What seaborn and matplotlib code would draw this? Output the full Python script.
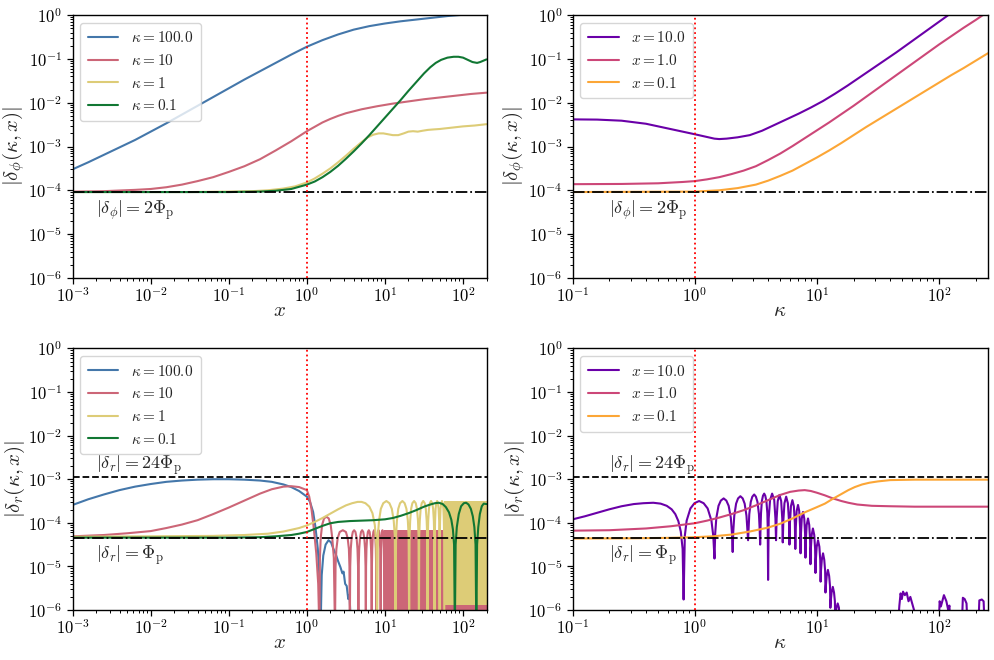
import numpy as np
import matplotlib
matplotlib.use("Agg")
import matplotlib.pyplot as plt
import matplotlib.ticker as mticker
import seaborn as sns

sns.set_style("ticks")
plt.rcParams.update({
    "font.family": ["serif"],
    "font.serif": ["cmr10", "DejaVu Serif"],
    "mathtext.fontset": "cm",
    "axes.unicode_minus": False,
    "axes.edgecolor": "black",
    "axes.linewidth": 1.0,
    "xtick.color": "black",
    "ytick.color": "black",
})

# ---------------- data (log10 values) ----------------
PHI_P = 4.6e-5
LEFT_LABELS = [r"$\kappa = 100.0$", r"$\kappa = 10$", r"$\kappa = 1$", r"$\kappa = 0.1$"]
RIGHT_LABELS = [r"$x = 10.0$", r"$x = 1.0$", r"$x = 0.1$"]
LEFT_COLORS = ["#4477AA", "#CC6677", "#DDCC77", "#117733"]
RIGHT_COLORS = ["#6a00a8", "#cc4778", "#fca636"]

# top-left: |delta_phi| vs x   (log10 x, log10 y)
tl_k100_lx = [-3, -2.8, -2.6, -2.4, -2.2, -2.0, -1.8, -1.6, -1.4, -1.2, -1.0, -0.8, -0.6, -0.4, -0.2,
              0, 0.2, 0.4, 0.6, 0.8, 1.0, 1.2, 1.4, 1.6, 1.8, 2.0, 2.3]
tl_k100_ly = [-3.52, -3.36, -3.19, -3.02, -2.85, -2.66, -2.47, -2.27, -2.07, -1.87, -1.67, -1.47, -1.28, -1.09, -0.90,
              -0.72, -0.57, -0.44, -0.33, -0.25, -0.19, -0.14, -0.10, -0.06, -0.02, 0.01, 0.04]
tl_k10_lx = [-3, -2.6, -2.2, -2.0, -1.8, -1.6, -1.4, -1.2, -1.0, -0.8, -0.6, -0.4, -0.2, 0, 0.1, 0.2,
             0.3, 0.4, 0.5, 0.7, 0.9, 1.1, 1.3, 1.5, 1.7, 1.9, 2.1, 2.3]
tl_k10_ly = [-4.03, -4.02, -3.99, -3.97, -3.93, -3.87, -3.79, -3.70, -3.58, -3.45, -3.29, -3.09, -2.88, -2.65, -2.55, -2.45,
             -2.37, -2.30, -2.24, -2.15, -2.08, -2.02, -1.97, -1.92, -1.88, -1.84, -1.80, -1.77]
tl_k1_lx = [-3, -1.5, -1.0, -0.7, -0.5, -0.3, -0.15, 0, 0.1, 0.2, 0.3, 0.4, 0.5, 0.6, 0.7, 0.78, 0.85, 0.92, 0.98,
            1.04, 1.1, 1.17, 1.24, 1.3, 1.36, 1.42, 1.48, 1.55, 1.62, 1.7, 1.8, 1.9, 2.0, 2.15, 2.3]
tl_k1_ly = [-4.04, -4.04, -4.03, -4.02, -4.0, -3.96, -3.91, -3.82, -3.73, -3.62, -3.50, -3.36, -3.21, -3.05, -2.90,
            -2.79, -2.73, -2.70, -2.70, -2.72, -2.74, -2.74, -2.70, -2.66, -2.65, -2.66, -2.64, -2.62, -2.61, -2.60,
            -2.58, -2.56, -2.54, -2.52, -2.49]
tl_k01_lx = [-3, -1, -0.6, -0.4, -0.2, 0, 0.1, 0.2, 0.3, 0.4, 0.5, 0.6, 0.7, 0.8, 0.9, 1.0, 1.1, 1.2, 1.3, 1.4,
             1.5, 1.58, 1.65, 1.72, 1.8, 1.88, 1.94, 2.0, 2.06, 2.12, 2.18, 2.22, 2.26, 2.3]
tl_k01_ly = [-4.04, -4.04, -4.03, -4.01, -3.97, -3.87, -3.80, -3.70, -3.58, -3.44, -3.28, -3.11, -2.93, -2.74, -2.54,
             -2.34, -2.14, -1.94, -1.73, -1.53, -1.33, -1.19, -1.09, -1.02, -0.97, -0.95, -0.95, -0.97, -1.02, -1.07,
             -1.09, -1.07, -1.04, -1.01]

# top-right: |delta_phi| vs kappa   (log10 kappa, log10 y)
tr_x10_lk = [-1, -0.8, -0.6, -0.4, -0.2, -0.1, 0, 0.08, 0.16, 0.2, 0.26, 0.35, 0.45, 0.55, 0.65, 0.75, 0.85, 0.95,
             1.05, 1.15, 1.25, 1.35, 1.45, 1.55, 1.65, 1.75, 1.85, 1.95, 2.05, 2.15, 2.4]
tr_x10_ly = [-2.38, -2.385, -2.41, -2.48, -2.60, -2.66, -2.72, -2.77, -2.82, -2.83, -2.82, -2.79, -2.74, -2.64, -2.51,
             -2.38, -2.25, -2.11, -1.96, -1.79, -1.61, -1.42, -1.23, -1.04, -0.85, -0.65, -0.45, -0.25, -0.05, 0.15, 0.6]
tr_x1_lk = [-1, -0.6, -0.3, -0.1, 0, 0.1, 0.2, 0.3, 0.4, 0.5, 0.6, 0.7, 0.8, 0.9, 1.0, 1.1, 1.2, 1.3, 1.4, 1.5,
            1.6, 1.7, 1.8, 1.9, 2.0, 2.1, 2.2, 2.3, 2.4]
tr_x1_ly = [-3.86, -3.855, -3.84, -3.81, -3.79, -3.75, -3.70, -3.63, -3.55, -3.45, -3.31, -3.16, -2.99, -2.81, -2.63,
            -2.45, -2.26, -2.07, -1.87, -1.67, -1.47, -1.27, -1.07, -0.87, -0.67, -0.48, -0.29, -0.11, 0.08]
tr_x01_lk = [-1, 0, 0.2, 0.35, 0.5, 0.6, 0.7, 0.8, 0.9, 1.0, 1.1, 1.2, 1.3, 1.4, 1.5, 1.6, 1.7, 1.8, 1.9, 2.0,
             2.1, 2.2, 2.3, 2.4]
tr_x01_ly = [-4.04, -4.03, -4.0, -3.95, -3.87, -3.78, -3.67, -3.55, -3.40, -3.25, -3.09, -2.92, -2.74, -2.56, -2.39,
             -2.22, -2.05, -1.88, -1.71, -1.54, -1.37, -1.21, -1.04, -0.87]

# bottom-left: |delta_r| vs x
bl_k100_lx = [-3, -2.8, -2.6, -2.4, -2.2, -2.0, -1.8, -1.6, -1.4, -1.2, -1.0, -0.8, -0.6, -0.45, -0.3, -0.2, -0.1,
              0, 0.04, 0.08, 0.11, 0.14, 0.16, 0.175, 0.19, 0.21, 0.24, 0.277, 0.31, 0.34, 0.37, 0.40, 0.43,
              0.455, 0.47, 0.49, 0.51, 0.53, 0.545, 0.555, 0.57, 0.6]
bl_k100_ly = [-3.59, -3.46, -3.35, -3.25, -3.17, -3.11, -3.06, -3.03, -3.01, -3.00, -3.00, -3.01, -3.03, -3.06, -3.12,
              -3.18, -3.27, -3.40, -3.52, -3.75, -4.1, -4.6, -5.2, -6.5, -5.2, -4.75, -4.5, -4.40, -4.45, -4.6, -4.72,
              -4.88, -5.02, -5.16, -5.12, -5.4, -5.45, -5.75, -5.65, -6.0, -6.1, -6.5]
bl_k10_lx = [-3, -2.6, -2.3, -2.0, -1.8, -1.6, -1.4, -1.2, -1.0, -0.8, -0.6, -0.45, -0.3, -0.2, -0.1,
             0, 0.03, 0.06, 0.09, 0.12, 0.145, 0.16,
             0.167, 0.177, 0.195, 0.22, 0.25, 0.28, 0.305, 0.325, 0.345, 0.36,
             0.367, 0.378, 0.395, 0.42, 0.46, 0.5, 0.522, 0.538, 0.545, 0.55,
             0.555, 0.562, 0.573, 0.588, 0.605, 0.622, 0.637, 0.648, 0.655, 0.66,
             0.664, 0.67, 0.68, 0.693, 0.708, 0.722, 0.735, 0.745, 0.751, 0.755,
             0.758, 0.763, 0.771, 0.781, 0.793, 0.804, 0.814, 0.822, 0.827, 0.83,
             0.833, 0.837, 0.843, 0.851, 0.86, 0.869, 0.877, 0.883, 0.887, 0.89,
             0.893, 0.896, 0.902, 0.909, 0.918, 0.926, 0.933, 0.939, 0.942, 0.945,
             0.947, 0.95, 0.955, 0.961, 0.968, 0.975, 0.981, 0.985, 0.988, 0.99]
bl_k10_ly = [-4.31, -4.28, -4.24, -4.19, -4.12, -4.04, -3.94, -3.80, -3.65, -3.49, -3.33, -3.23, -3.17, -3.16, -3.18,
             -3.25, -3.4, -3.7, -4.15, -4.7, -5.4, -6.5,
             -4.8, -4.35, -4.05, -3.9, -3.86, -3.9, -4.05, -4.35, -4.8, -6.5,
             -5.0, -4.6, -4.35, -4.21, -4.17, -4.21, -4.35, -4.6, -5.0, -6.5,
             -5.0, -4.6, -4.35, -4.21, -4.17, -4.21, -4.35, -4.6, -5.0, -6.5,
             -5.0, -4.6, -4.35, -4.21, -4.17, -4.21, -4.35, -4.6, -5.0, -6.5,
             -5.0, -4.6, -4.35, -4.21, -4.17, -4.21, -4.35, -4.6, -5.0, -6.5,
             -5.0, -4.6, -4.35, -4.21, -4.17, -4.21, -4.35, -4.6, -5.0, -6.5,
             -5.0, -4.6, -4.35, -4.21, -4.17, -4.21, -4.35, -4.6, -5.0, -6.5,
             -5.0, -4.6, -4.35, -4.21, -4.17, -4.21, -4.35, -4.6, -5.0, -6.5]
bl_k10_band_x = [9.8, 200.0]
bl_k10_band_top = [6.8e-5, 6.8e-5]
bl_k1_lx = [-3, -2, -1.2, -0.8, -0.5, -0.3, -0.1, 0, 0.1, 0.2, 0.3, 0.4, 0.5, 0.58, 0.65, 0.7, 0.75, 0.8, 0.84,
            0.87, 0.89, 0.9,
            0.909, 0.924, 0.947, 0.978, 1.018, 1.057, 1.088, 1.112, 1.126, 1.135,
            1.142, 1.153, 1.17, 1.193, 1.223, 1.252, 1.275, 1.293, 1.303, 1.31,
            1.315, 1.323, 1.335, 1.351, 1.373, 1.394, 1.41, 1.423, 1.43, 1.435,
            1.439, 1.446, 1.457, 1.471, 1.49, 1.509, 1.523, 1.534, 1.541, 1.545,
            1.549, 1.554, 1.563, 1.575, 1.59, 1.605, 1.617, 1.626, 1.631, 1.635,
            1.638, 1.642, 1.648, 1.656, 1.668, 1.679, 1.687, 1.694, 1.697, 1.70,
            1.702, 1.706, 1.712, 1.72, 1.73, 1.74, 1.748, 1.754, 1.758, 1.76]
bl_k1_ly = [-4.32, -4.31, -4.30, -4.28, -4.25, -4.20, -4.12, -4.06, -3.98, -3.89, -3.79, -3.69, -3.60, -3.55, -3.52,
            -3.52, -3.55, -3.63, -3.78, -4.05, -4.5, -6.5,
            -4.3, -3.95, -3.68, -3.55, -3.5, -3.55, -3.68, -3.95, -4.3, -6.5,
            -4.3, -3.95, -3.68, -3.55, -3.5, -3.55, -3.68, -3.95, -4.3, -6.5,
            -4.3, -3.95, -3.68, -3.55, -3.5, -3.55, -3.68, -3.95, -4.3, -6.5,
            -4.3, -3.95, -3.68, -3.55, -3.5, -3.55, -3.68, -3.95, -4.3, -6.5,
            -4.3, -3.95, -3.68, -3.55, -3.5, -3.55, -3.68, -3.95, -4.3, -6.5,
            -4.3, -3.95, -3.68, -3.55, -3.5, -3.55, -3.68, -3.95, -4.3, -6.5,
            -4.3, -3.95, -3.68, -3.55, -3.5, -3.55, -3.68, -3.95, -4.3, -6.5]
bl_k1_band_x = [57.5, 200.0]
bl_k1_band_top = [3.1e-4, 3.1e-4]
bl_k1_band_bottom = [1.3e-6, 1.3e-6]
bl_k01_lx = [-3, -1, -0.6, -0.4, -0.2, -0.1, 0, 0.1, 0.2, 0.3, 0.4, 0.55, 0.7, 0.85, 1.0, 1.1, 1.2, 1.3, 1.4, 1.5,
             1.58, 1.64, 1.69, 1.74, 1.78, 1.82, 1.85, 1.87, 1.885, 1.895, 1.905, 1.92, 1.945, 1.975, 2.01, 2.04,
             2.07, 2.1, 2.125, 2.145, 2.16, 2.17, 2.18, 2.195, 2.215, 2.24, 2.265, 2.3]
bl_k01_ly = [-4.34, -4.34, -4.33, -4.31, -4.28, -4.25, -4.21, -4.14, -4.07, -4.01, -3.98, -3.96, -3.95, -3.94, -3.92,
             -3.89, -3.84, -3.78, -3.71, -3.63, -3.58, -3.55, -3.54, -3.57, -3.64, -3.76, -3.93, -4.15, -4.5, -6.5,
             -4.5, -4.1, -3.8, -3.62, -3.55, -3.54, -3.58, -3.68, -3.85, -4.1, -4.5, -6.5, -4.5, -4.1, -3.8, -3.62,
             -3.56, -3.57]

# bottom-right: |delta_r| vs kappa
br_x10_lk = [-1, -0.9, -0.8, -0.7, -0.6, -0.5, -0.42, -0.34, -0.28, -0.23, -0.19, -0.16, -0.135, -0.115, -0.1, -0.092,
             -0.082, -0.067, -0.036, -0.003, 0.035, 0.072, 0.105, 0.136, 0.151, 0.161,
             0.167, 0.176, 0.194, 0.213, 0.236, 0.258, 0.277, 0.295, 0.304, 0.31,
             0.315, 0.323, 0.338, 0.354, 0.373, 0.392, 0.408, 0.423, 0.431, 0.436,
             0.44, 0.446, 0.458, 0.471, 0.486, 0.5, 0.513, 0.525, 0.531, 0.535,
             0.538, 0.542, 0.549, 0.558, 0.568, 0.577, 0.586, 0.594, 0.597, 0.60,
             0.605, 0.616, 0.633, 0.65, 0.66, 0.665,
             0.67, 0.679, 0.693, 0.707, 0.716, 0.72,
             0.725, 0.734, 0.748, 0.762, 0.771, 0.775,
             0.779, 0.787, 0.799, 0.811, 0.819, 0.823,
             0.827, 0.834, 0.845, 0.855, 0.862, 0.866,
             0.869, 0.876, 0.886, 0.896, 0.903, 0.906,
             0.909, 0.916, 0.927, 0.937, 0.944, 0.947,
             0.95, 0.957, 0.967, 0.978, 0.985, 0.988,
             0.991, 0.998, 1.009, 1.02, 1.027, 1.03,
             1.033, 1.04, 1.05, 1.06, 1.067, 1.07,
             1.073, 1.08, 1.09, 1.1, 1.107, 1.11,
             1.113, 1.12, 1.13, 1.14, 1.147, 1.15,
             1.153, 1.16, 1.17, 1.18, 1.19, 1.21, 1.23,
             1.66, 1.675, 1.685, 1.695, 1.705, 1.72, 1.735, 1.75, 1.765, 1.78, 1.795, 1.81,
             1.995, 2.005, 2.015, 2.04, 2.06, 2.075, 2.085, 2.095,
             2.185, 2.195, 2.21, 2.225, 2.235,
             2.32, 2.33, 2.35, 2.365, 2.375, 2.4]
br_x10_ly = [-3.92, -3.85, -3.77, -3.69, -3.62, -3.57, -3.55, -3.54, -3.56, -3.61, -3.69, -3.8, -3.96, -4.2, -4.6, -5.76,
             -4.3, -3.95, -3.67, -3.55, -3.50, -3.55, -3.67, -3.95, -4.3, -4.82,
             -4.24, -3.89, -3.61, -3.49, -3.44, -3.49, -3.61, -3.89, -4.24, -4.67,
             -4.19, -3.84, -3.56, -3.44, -3.39, -3.44, -3.56, -3.84, -4.19, -4.40,
             -4.15, -3.8, -3.52, -3.4, -3.35, -3.4, -3.52, -3.8, -4.15, -4.5,
             -4.13, -3.78, -3.5, -3.38, -3.33, -3.38, -3.5, -3.78, -4.13, -5.31,
             -3.9, -3.48, -3.33, -3.47, -3.9, -4.4,
             -3.9, -3.5, -3.36, -3.5, -3.9, -4.45,
             -3.95, -3.55, -3.40, -3.55, -3.95, -4.5,
             -4.0, -3.62, -3.48, -3.62, -4.0, -4.6,
             -4.1, -3.73, -3.59, -3.73, -4.1, -4.7,
             -4.25, -3.9, -3.75, -3.9, -4.25, -4.8,
             -4.4, -4.05, -3.9, -4.05, -4.4, -4.95,
             -4.6, -4.28, -4.13, -4.28, -4.6, -5.15,
             -4.85, -4.55, -4.40, -4.55, -4.85, -5.35,
             -5.1, -4.85, -4.70, -4.85, -5.1, -5.6,
             -5.45, -5.22, -5.08, -5.22, -5.45, -5.95,
             -5.8, -5.6, -5.47, -5.6, -5.8, -6.3,
             -6.1, -5.95, -5.85, -5.95, -6.5, -6.2, -6.5,
             -6.5, -5.9, -5.62, -5.75, -5.58, -5.66, -5.6, -5.8, -5.7, -5.85, -6.0, -6.5,
             -6.5, -5.8, -5.92, -5.66, -5.8, -6.0, -5.9, -6.5,
             -6.5, -5.72, -5.75, -5.85, -6.5,
             -6.5, -5.78, -5.76, -5.8, -6.5, -6.5]
br_x1_lk = [-1, -0.7, -0.4, -0.2, 0, 0.1, 0.2, 0.3, 0.4, 0.5, 0.6, 0.7, 0.78, 0.85, 0.9, 0.95, 1.0, 1.065, 1.13,
            1.2, 1.257, 1.33, 1.45, 1.6, 1.8, 2.1, 2.4]
br_x1_ly = [-4.18, -4.17, -4.13, -4.08, -4.01, -3.95, -3.88, -3.80, -3.71, -3.60, -3.48, -3.36, -3.29, -3.26, -3.25,
            -3.27, -3.31, -3.37, -3.44, -3.50, -3.54, -3.58, -3.61, -3.62, -3.63, -3.63, -3.63]
br_x01_lk = [-1, -0.5, -0.2, 0, 0.15, 0.3, 0.45, 0.6, 0.7, 0.8, 0.9, 1.0, 1.065, 1.13, 1.2, 1.257, 1.31, 1.37, 1.43,
             1.5, 1.6, 1.8, 2.1, 2.4]
br_x01_ly = [-4.36, -4.355, -4.345, -4.33, -4.31, -4.27, -4.2, -4.11, -4.02, -3.9, -3.76, -3.64, -3.56, -3.45, -3.34,
             -3.25, -3.18, -3.12, -3.08, -3.05, -3.02, -3.01, -3.01, -3.01]

# ---------------- figure ----------------
fig = plt.figure(figsize=(9.95, 6.6), dpi=100)
ax_tl = fig.add_axes([0.073, 0.579, 0.416, 0.398])
ax_tr = fig.add_axes([0.5756, 0.579, 0.417, 0.398])
ax_bl = fig.add_axes([0.073, 0.0758, 0.416, 0.3962])
ax_br = fig.add_axes([0.5756, 0.0758, 0.417, 0.3962])

TICK_FS = 12
LABEL_FS = 15
LEG_FS = 11
TXT_FS = 13


def curve(ax, lx, ly, color, label=None):
    sns.lineplot(x=10.0 ** np.asarray(lx, float), y=10.0 ** np.asarray(ly, float), ax=ax,
                 color=color, lw=1.5, label=label, legend=False, estimator=None, sort=False)


def decade_fmt(v, pos):
    return r"$10^{%d}$" % int(round(np.log10(v)))


def style(ax, xlim, xlabel, ylabel):
    ax.set_xscale("log")
    ax.set_yscale("log")
    ax.set_xlim(*xlim)
    ax.set_ylim(1e-6, 1.0)
    for axis in (ax.xaxis, ax.yaxis):
        axis.set_major_locator(mticker.LogLocator(base=10, numticks=20))
        axis.set_minor_locator(mticker.LogLocator(base=10, subs=np.arange(2, 10), numticks=20))
        axis.set_major_formatter(mticker.FuncFormatter(decade_fmt))
        axis.set_minor_formatter(mticker.NullFormatter())
    ax.tick_params(which="major", labelsize=TICK_FS, length=4, width=0.9)
    ax.tick_params(axis="x", which="major", pad=2)
    ax.tick_params(which="minor", length=2.2, width=0.7)
    ax.set_xlabel(xlabel, fontsize=LABEL_FS, labelpad=-2)
    ax.set_ylabel(ylabel, fontsize=LABEL_FS, labelpad=1)
    for s in ax.spines.values():
        s.set_visible(True)
        s.set_color("black")
    ax.axvline(1.0, color="red", ls=":", lw=1.3, zorder=4)
    ax.legend(loc="upper left", fontsize=LEG_FS, framealpha=0.8, borderpad=0.5)


# top-left
for (lx, ly), c, lab in zip([(tl_k100_lx, tl_k100_ly), (tl_k10_lx, tl_k10_ly), (tl_k1_lx, tl_k1_ly), (tl_k01_lx, tl_k01_ly)],
                            LEFT_COLORS, LEFT_LABELS):
    curve(ax_tl, lx, ly, c, lab)
ax_tl.axhline(2 * PHI_P, color="black", ls="-.", lw=1.3, zorder=3)
ax_tl.text(2e-3, 10 ** -4.45, r"$|\delta_\phi| = 2\Phi_{\rm p}$", fontsize=TXT_FS, va="center")
style(ax_tl, (1e-3, 200), r"$x$", r"$|\delta_\phi(\kappa, x)|$")

# top-right
for (lx, ly), c, lab in zip([(tr_x10_lk, tr_x10_ly), (tr_x1_lk, tr_x1_ly), (tr_x01_lk, tr_x01_ly)],
                            RIGHT_COLORS, RIGHT_LABELS):
    curve(ax_tr, lx, ly, c, lab)
ax_tr.axhline(2 * PHI_P, color="black", ls="-.", lw=1.3, zorder=3)
ax_tr.text(0.2, 10 ** -4.45, r"$|\delta_\phi| = 2\Phi_{\rm p}$", fontsize=TXT_FS, va="center")
style(ax_tr, (0.1, 250), r"$\kappa$", r"$|\delta_\phi(\kappa, x)|$")

# bottom-left
curve(ax_bl, bl_k100_lx, bl_k100_ly, LEFT_COLORS[0], LEFT_LABELS[0])
curve(ax_bl, bl_k10_lx, bl_k10_ly, LEFT_COLORS[1], LEFT_LABELS[1])
ax_bl.fill_between(bl_k10_band_x, 1e-7, bl_k10_band_top, color=LEFT_COLORS[1], lw=0, zorder=2)
curve(ax_bl, bl_k1_lx, bl_k1_ly, LEFT_COLORS[2], LEFT_LABELS[2])
ax_bl.fill_between(bl_k1_band_x, bl_k1_band_bottom, bl_k1_band_top, color=LEFT_COLORS[2], lw=0, zorder=2)
curve(ax_bl, bl_k01_lx, bl_k01_ly, LEFT_COLORS[3], LEFT_LABELS[3])
ax_bl.axhline(24 * PHI_P, color="black", ls="--", lw=1.3, zorder=3)
ax_bl.axhline(PHI_P, color="black", ls="-.", lw=1.3, zorder=3)
ax_bl.text(2e-3, 10 ** -2.68, r"$|\delta_r| = 24\Phi_{\rm p}$", fontsize=TXT_FS, va="center")
ax_bl.text(2e-3, 10 ** -4.74, r"$|\delta_r| = \Phi_{\rm p}$", fontsize=TXT_FS, va="center")
style(ax_bl, (1e-3, 200), r"$x$", r"$|\delta_r(\kappa, x)|$")

# bottom-right
for (lx, ly), c, lab in zip([(br_x10_lk, br_x10_ly), (br_x1_lk, br_x1_ly), (br_x01_lk, br_x01_ly)],
                            RIGHT_COLORS, RIGHT_LABELS):
    curve(ax_br, lx, ly, c, lab)
ax_br.axhline(24 * PHI_P, color="black", ls="--", lw=1.3, zorder=3)
ax_br.axhline(PHI_P, color="black", ls="-.", lw=1.3, zorder=3)
ax_br.text(0.2, 10 ** -2.68, r"$|\delta_r| = 24\Phi_{\rm p}$", fontsize=TXT_FS, va="center")
ax_br.text(0.2, 10 ** -4.74, r"$|\delta_r| = \Phi_{\rm p}$", fontsize=TXT_FS, va="center")
style(ax_br, (0.1, 250), r"$\kappa$", r"$|\delta_r(\kappa, x)|$")

fig.savefig("out.png", dpi=100)
